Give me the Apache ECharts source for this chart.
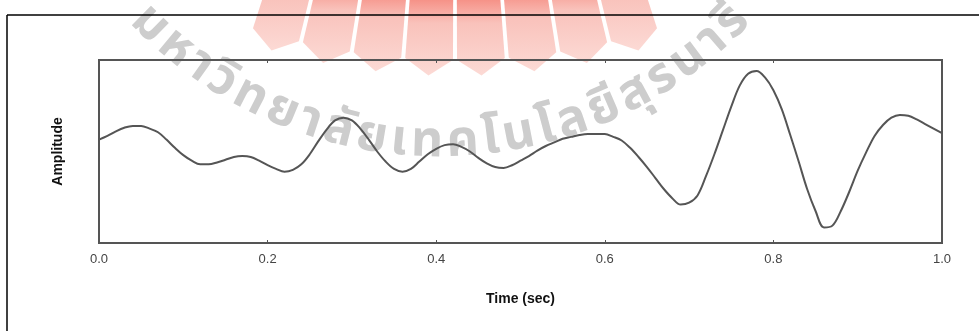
<!DOCTYPE html>
<html>
<head>
<meta charset="utf-8">
<script src="https://cdn.jsdelivr.net/npm/echarts@6/dist/echarts.min.js"></script>
<style>
  html, body { margin: 0; background: #fff; }
  #chart { width: 979px; height: 331px; }
</style>
</head>
<body>
<div id="chart"></div>
<script>
// signal, one value every 0.01 s (amplitude in arbitrary units)
const timeSec = [
  0.00, 0.01, 0.02, 0.03, 0.04, 0.05, 0.06, 0.07, 0.08, 0.09,
  0.10, 0.11, 0.12, 0.13, 0.14, 0.15, 0.16, 0.17, 0.18, 0.19,
  0.20, 0.21, 0.22, 0.23, 0.24, 0.25, 0.26, 0.27, 0.28, 0.29,
  0.30, 0.31, 0.32, 0.33, 0.34, 0.35, 0.36, 0.37, 0.38, 0.39,
  0.40, 0.41, 0.42, 0.43, 0.44, 0.45, 0.46, 0.47, 0.48, 0.49,
  0.50, 0.51, 0.52, 0.53, 0.54, 0.55, 0.56, 0.57, 0.58, 0.59,
  0.60, 0.61, 0.62, 0.63, 0.64, 0.65, 0.66, 0.67, 0.68, 0.69,
  0.70, 0.71, 0.72, 0.73, 0.74, 0.75, 0.76, 0.77, 0.78, 0.79,
  0.80, 0.81, 0.82, 0.83, 0.84, 0.85, 0.86, 0.87, 0.88, 0.89,
  0.90, 0.91, 0.92, 0.93, 0.94, 0.95, 0.96, 0.97, 0.98, 0.99, 1.00];
const amplitude = [
  0.13, 0.17, 0.22, 0.26, 0.28, 0.28, 0.25, 0.21, 0.13, 0.04,
  -0.04, -0.10, -0.14, -0.14, -0.12, -0.09, -0.06, -0.05, -0.06, -0.10,
  -0.15, -0.19, -0.22, -0.20, -0.14, -0.03, 0.11, 0.24, 0.34, 0.37,
  0.34, 0.25, 0.13, 0.00, -0.11, -0.19, -0.22, -0.19, -0.11, -0.03,
  0.03, 0.07, 0.08, 0.05, 0.00, -0.07, -0.13, -0.17, -0.18, -0.15,
  -0.10, -0.05, 0.01, 0.06, 0.10, 0.14, 0.16, 0.18, 0.19, 0.19,
  0.19, 0.16, 0.12, 0.04, -0.06, -0.17, -0.29, -0.41, -0.51, -0.58,
  -0.56, -0.48, -0.27, -0.03, 0.23, 0.49, 0.72, 0.85, 0.88, 0.81,
  0.67, 0.46, 0.18, -0.11, -0.41, -0.65, -0.83, -0.81, -0.65, -0.44,
  -0.21, -0.01, 0.17, 0.29, 0.37, 0.40, 0.39, 0.35, 0.30, 0.25, 0.20];
const xTicks = [0, 0.2, 0.4, 0.6, 0.8, 1.0];
const xName = 'Time (sec)';
const yName = 'Amplitude';
const markText = 'มหาวิทยาลัยเทคโนโลยีสุรนารี';

const chart = echarts.init(document.getElementById('chart'));
const W = 979, H = 331;

// ---- watermark: pink fan logo at the top
const logo = [];
const fan = { cx: 455, cy: -600, r0: 590, r1: 660, tip: 676 };
const nStripes = 8, span = 36 * Math.PI / 180, gap = 0.35 * Math.PI / 180;
for (let i = 0; i < nStripes; i++) {
  const a0 = -span / 2 + i * span / nStripes + gap / 2;
  const a1 = -span / 2 + (i + 1) * span / nStripes - gap / 2;
  const am = (a0 + a1) / 2;
  const p = (r, a) => [fan.cx + r * Math.sin(a), fan.cy + r * Math.cos(a)];
  logo.push({
    type: 'polygon', z: -5, silent: true,
    shape: { points: [p(fan.r0, a0), p(fan.r1, a0), p(fan.tip, am), p(fan.r1, a1), p(fan.r0, a1)] },
    style: {
      fill: new echarts.graphic.LinearGradient(0, 0, 0, 1, [
        { offset: 0, color: '#f47a6e' },
        { offset: 0.4, color: '#f9c2bb' },
        { offset: 1, color: '#fcdad5' }
      ])
    }
  });
}

// ---- watermark: university name set on an arc
const arcText = [];
const font = 'bold 50px "Noto Sans Thai", "Noto Sans", sans-serif';
const ctx = document.createElement('canvas').getContext('2d');
ctx.font = font;
const seg = new Intl.Segmenter('th', { granularity: 'grapheme' });
const clusters = Array.from(seg.segment(markText), s => s.segment);
const widths = clusters.map(c => ctx.measureText(c).width);
const arc = { cx: 440, cy: -272, r: 418, len: 680 };
const total = widths.reduce((a, b) => a + b, 0);
const extra = (arc.len - total) / Math.max(1, clusters.length - 1);
let s = -arc.len / 2;
clusters.forEach((c, i) => {
  const phi = (s + widths[i] / 2) / arc.r;
  arcText.push({
    type: 'text', z: -4, silent: true,
    x: arc.cx + arc.r * Math.sin(phi),
    y: arc.cy + arc.r * Math.cos(phi),
    rotation: phi,
    style: {
      text: c, font: font, fill: '#cdcdcd',
      align: 'center', verticalAlign: 'middle'
    }
  });
  s += widths[i] + extra;
});

// ---- outer frame (only top and left edges fall inside the picture)
const frame = [
  { type: 'line', z: 50, silent: true, shape: { x1: 7, y1: 15, x2: W, y2: 15 }, style: { stroke: '#000', lineWidth: 1.5 } },
  { type: 'line', z: 50, silent: true, shape: { x1: 7, y1: 15, x2: 7, y2: H }, style: { stroke: '#000', lineWidth: 1.5 } }
];

const axisColor = '#555';
const labelFont = { fontFamily: 'Liberation Sans, Arial, sans-serif' };

chart.setOption({
  animation: false,
  grid: {
    left: 99, right: 37, top: 60, bottom: 88,
    show: true, borderColor: axisColor, borderWidth: 2, backgroundColor: 'transparent'
  },
  graphic: { elements: [...logo, ...arcText, ...frame] },
  xAxis: [{
    type: 'value', min: xTicks[0], max: xTicks[xTicks.length - 1], interval: 0.2,
    position: 'bottom',
    name: xName, nameLocation: 'middle', nameGap: 49,
    nameTextStyle: { ...labelFont, fontSize: 14, fontWeight: 'bold', color: '#111' },
    axisLine: { onZero: false, lineStyle: { color: axisColor, width: 2 } },
    axisTick: { inside: true, length: 3, lineStyle: { color: axisColor } },
    axisLabel: {
      ...labelFont, fontSize: 13, color: '#444', margin: 10,
      formatter: v => v.toFixed(1)
    },
    splitLine: { show: false }
  }, {
    type: 'value', min: xTicks[0], max: xTicks[xTicks.length - 1], interval: 0.2,
    position: 'top',
    axisLine: { onZero: false, lineStyle: { color: axisColor, width: 2 } },
    axisTick: { inside: true, length: 3, lineStyle: { color: axisColor } },
    axisLabel: { show: false },
    splitLine: { show: false }
  }],
  yAxis: {
    type: 'value', min: -1, max: 1,
    name: yName, nameLocation: 'middle', nameGap: 34, nameRotate: 90,
    nameTextStyle: { ...labelFont, fontSize: 14, fontWeight: 'bold', color: '#111' },
    axisLine: { show: true, onZero: false, lineStyle: { color: axisColor, width: 2 } },
    axisTick: { show: false },
    axisLabel: { show: false },
    splitLine: { show: false }
  },
  series: [{
    type: 'line',
    data: timeSec.map((t, i) => [t, amplitude[i]]),
    smooth: 0.35,
    showSymbol: false,
    lineStyle: { color: '#555', width: 2 }
  }]
});
</script>
</body>
</html>
